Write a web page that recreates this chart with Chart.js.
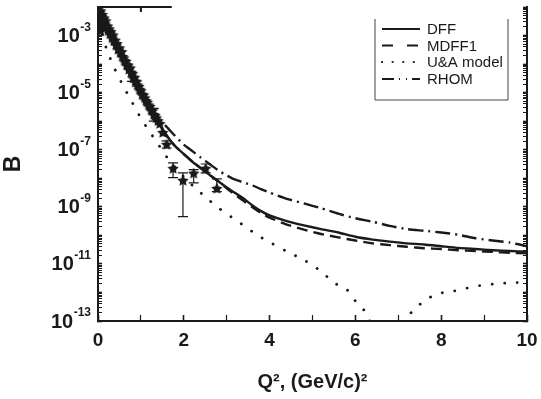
<!DOCTYPE html>
<html>
<head>
<meta charset="utf-8">
<script src="https://cdn.jsdelivr.net/npm/chart.js@4.4.0/dist/chart.umd.min.js"></script>
<style>
  html, body { margin: 0; padding: 0; background: #fff; }
</style>
</head>
<body>
<canvas id="chart" width="541" height="399"></canvas>
<script>
// Q^2 grid shared by the three form-factor curves
const qGrid = [0, 0.2, 0.4, 0.6, 0.8, 1.0, 1.2, 1.4, 1.6, 1.8, 2.0, 2.2, 2.4, 2.6, 2.8, 3.0,
  3.2, 3.4, 3.6, 3.8, 4.0, 4.4, 4.8, 5.2, 5.6, 6.0, 6.4, 6.8, 7.2, 7.6, 8.0, 8.4, 8.8, 9.2, 9.6, 10];

const dff = [8.91e-3, 2.24e-3, 5.62e-4, 1.41e-4, 3.80e-5, 1.05e-5, 3.02e-6, 8.91e-7, 3.16e-7, 1.32e-7,
  7.08e-8, 3.80e-8, 2.24e-8, 1.32e-8, 7.94e-9, 4.79e-9, 3.02e-9, 1.91e-9, 1.12e-9, 7.08e-10,
  5.01e-10, 3.16e-10, 2.24e-10, 1.66e-10, 1.26e-10, 8.91e-11, 7.08e-11, 6.03e-11, 5.25e-11, 4.79e-11,
  4.17e-11, 3.63e-11, 3.31e-11, 3.02e-11, 2.82e-11, 2.69e-11];

const mdff1 = [8.91e-3, 2.24e-3, 5.62e-4, 1.41e-4, 3.80e-5, 1.05e-5, 3.02e-6, 8.91e-7, 3.16e-7, 1.32e-7,
  7.08e-8, 3.80e-8, 2.24e-8, 1.32e-8, 7.94e-9, 4.47e-9, 2.63e-9, 1.58e-9, 9.55e-10, 6.03e-10,
  4.17e-10, 2.40e-10, 1.58e-10, 1.12e-10, 8.51e-11, 6.61e-11, 5.25e-11, 4.57e-11, 3.98e-11, 3.55e-11,
  3.31e-11, 3.02e-11, 2.82e-11, 2.63e-11, 2.45e-11, 2.34e-11];

const rhom = [8.91e-3, 2.24e-3, 5.62e-4, 1.41e-4, 3.80e-5, 1.12e-5, 3.72e-6, 1.26e-6, 6.31e-7, 3.02e-7,
  1.51e-7, 8.91e-8, 5.25e-8, 3.16e-8, 1.91e-8, 1.26e-8, 8.91e-9, 7.08e-9, 5.62e-9, 4.17e-9,
  3.16e-9, 1.91e-9, 1.32e-9, 8.91e-10, 5.75e-10, 3.98e-10, 3.02e-10, 2.14e-10, 1.66e-10, 1.45e-10,
  1.26e-10, 1.05e-10, 7.94e-11, 6.61e-11, 5.62e-11, 4.17e-11];

// U&A model has its own grid (goes through zero near Q^2 ~ 6.6)
const uaQ = [0, 0.1, 0.2, 0.4, 0.6, 0.8, 1.0, 1.2, 1.4, 1.6, 1.8, 2.0, 2.2, 2.5, 2.8, 3.1, 3.4, 3.7,
  4.0, 4.4, 4.8, 5.2, 5.5, 5.8, 6.0, 6.2, 6.4, 6.6, 7.0, 7.2, 7.4, 7.7, 8.0, 8.3, 8.6, 8.9, 9.2, 9.6, 10];
const uaB = [7.94e-3, 1.26e-3, 3.31e-4, 6.31e-5, 1.58e-5, 4.47e-6, 1.26e-6, 4.37e-7, 1.58e-7, 5.62e-8,
  2.40e-8, 1.12e-8, 5.62e-9, 2.24e-9, 9.33e-10, 4.47e-10, 2.19e-10, 1.05e-10, 5.75e-11, 2.75e-11,
  1.38e-11, 5.50e-12, 2.19e-12, 1.26e-12, 5.01e-13, 2.40e-13, 6.31e-14, 1e-14, 1e-14, 1.26e-13,
  2.82e-13, 6.31e-13, 9.55e-13, 1.12e-12, 1.41e-12, 1.74e-12, 1.95e-12, 2.19e-12, 2.24e-12];

// experimental points
const expQ = [0.02, 0.03, 0.04, 0.05, 0.06, 0.08, 0.08, 0.10, 0.12, 0.14, 0.16, 0.18, 0.20, 0.22, 0.24,
  0.26, 0.28, 0.30, 0.33, 0.35, 0.37, 0.40, 0.42, 0.44, 0.47, 0.50, 0.52, 0.55, 0.57, 0.60, 0.62,
  0.65, 0.67, 0.70, 0.72, 0.75, 0.77, 0.80, 0.82, 0.85, 0.87, 0.90, 0.92, 0.95, 0.97, 1.00, 1.03,
  1.06, 1.09, 1.12, 1.15, 1.18, 1.21, 1.24, 1.27, 1.30, 1.33, 1.36, 1.40, 1.44, 1.51, 1.60, 1.75,
  1.98, 2.23, 2.51, 2.77];
const expB = [8.91e-3, 2.51e-3, 6.31e-3, 1.41e-3, 7.08e-3, 4.47e-3, 1.78e-3, 5.25e-3, 3.55e-3, 3.98e-3,
  2.51e-3, 3.16e-3, 2.0e-3, 2.09e-3, 1.41e-3, 1.66e-3, 1.12e-3, 1.32e-3, 7.94e-4, 1.0e-3, 6.31e-4,
  6.61e-4, 4.47e-4, 5.01e-4, 3.16e-4, 3.55e-4, 2.40e-4, 2.63e-4, 1.78e-4, 1.58e-4, 1.26e-4, 1.20e-4,
  8.91e-5, 8.91e-5, 6.31e-5, 7.08e-5, 5.01e-5, 4.47e-5, 3.16e-5, 3.31e-5, 2.24e-5, 2.40e-5, 1.78e-5,
  1.58e-5, 1.26e-5, 1.12e-5, 8.32e-6, 7.94e-6, 6.31e-6, 5.01e-6, 4.47e-6, 3.55e-6, 3.16e-6, 2.40e-6,
  2.24e-6, 1.66e-6, 1.51e-6, 1.26e-6, 1.0e-6, 7.94e-7, 3.89e-7, 1.48e-7, 2.14e-8, 8.13e-9, 1.45e-8,
  2.14e-8, 4.27e-9];

// error bars: Q^2, upper, lower
const errQ  = [0.79, 1.30, 1.60, 1.75, 1.98, 2.23, 2.51, 2.77];
const errHi = [5.13e-5, 2.82e-6, 2.04e-7, 3.47e-8, 1.55e-8, 2.0e-8, 3.16e-8, 9.55e-9];
const errLo = [2.5e-5, 1.0e-6, 1.15e-7, 1.05e-8, 4.57e-10, 6.92e-9, 1.55e-8, 3.39e-9];

const yLabelExps = [-3, -5, -7, -9, -11, -13];

const INK = '#1a1a1a';
const FONT = 'Arial, "Liberation Sans", Helvetica, sans-serif';

const pts = (xs, ys) => xs.map((x, i) => ({ x, y: ys[i] }));

function makeStar(r) {
  const s = Math.ceil(r * 2 + 2);
  const c = document.createElement('canvas');
  c.width = s; c.height = s;
  const g = c.getContext('2d');
  g.fillStyle = INK;
  g.beginPath();
  for (let i = 0; i < 10; i++) {
    const a = -Math.PI / 2 + i * Math.PI / 5;
    const rr = i % 2 ? r * 0.5 : r;
    g.lineTo(s / 2 + rr * Math.cos(a), s / 2 + rr * Math.sin(a));
  }
  g.closePath();
  g.fill();
  return c;
}

// all decade and sub-decade tick values for the log axes
const logTicks = [];
for (let e = -13; e <= -3; e++) {
  for (let m = 1; m <= 9; m++) logTicks.push(m * Math.pow(10, e));
}
logTicks.push(1e-2);

const isDecade = v => {
  const l = Math.log10(v);
  return Math.abs(l - Math.round(l)) < 1e-6;
};

const decor = {
  id: 'decor',
  afterDatasetsDraw(chart) {
    const { ctx, scales: { x, y } } = chart;
    ctx.save();
    ctx.strokeStyle = INK;
    ctx.lineWidth = 1.2;
    errQ.forEach((q, i) => {
      const px = x.getPixelForValue(q);
      const y1 = y.getPixelForValue(errHi[i]);
      const y2 = y.getPixelForValue(errLo[i]);
      ctx.beginPath();
      ctx.moveTo(px, y1); ctx.lineTo(px, y2);
      ctx.moveTo(px - 5, y1); ctx.lineTo(px + 5, y1);
      ctx.moveTo(px - 5, y2); ctx.lineTo(px + 5, y2);
      ctx.stroke();
    });
    ctx.restore();
  },
  afterDraw(chart) {
    const { ctx, chartArea, scales: { x, y } } = chart;
    ctx.save();
    ctx.fillStyle = INK;
    ctx.textBaseline = 'middle';
    // y tick labels 10^n
    yLabelExps.forEach(e => {
      const py = y.getPixelForValue(Math.pow(10, e));
      const right = 91;
      ctx.font = 'bold 12px ' + FONT;
      ctx.textAlign = 'right';
      const expTxt = '-' + Math.abs(e);
      const w = ctx.measureText(expTxt).width;
      ctx.fillText(expTxt, right, py - 8);
      ctx.font = 'bold 20px ' + FONT;
      ctx.fillText('10', right - w - 0.5, py + 1);
    });
    // top frame piece
    ctx.strokeStyle = INK;
    ctx.lineWidth = 2;
    ctx.beginPath();
    ctx.moveTo(chartArea.left, chartArea.top);
    ctx.lineTo(x.getPixelForValue(1.72), chartArea.top);
    ctx.moveTo(x.getPixelForValue(1), chartArea.top);
    ctx.lineTo(x.getPixelForValue(1), chartArea.top + 5);
    ctx.stroke();
    // legend
    const box = { l: 375, r: 508, t: 19, b: 100 };
    ctx.lineWidth = 1;
    ctx.strokeStyle = '#444';
    ctx.beginPath();
    ctx.moveTo(box.l, box.t); ctx.lineTo(box.l, box.b);
    ctx.lineTo(box.r, box.b); ctx.lineTo(box.r, box.t);
    ctx.stroke();
    const rows = [29, 45.5, 62, 79];
    const items = chart.data.datasets.filter(d => d.legendDash);
    items.forEach((d, i) => {
      ctx.strokeStyle = INK;
      ctx.lineWidth = 2.2;
      ctx.lineCap = d.borderCapStyle || 'butt';
      ctx.setLineDash(d.legendDash);
      ctx.beginPath();
      ctx.moveTo(382, rows[i]); ctx.lineTo(420, rows[i]);
      ctx.stroke();
      ctx.setLineDash([]);
      ctx.font = '15px ' + FONT;
      ctx.textAlign = 'left';
      ctx.fillText(d.label, 427, rows[i] + 1);
    });
    ctx.restore();
  }
};

const logAxis = (position, width) => ({
  type: 'logarithmic',
  position,
  min: 1e-13,
  max: 1e-2,
  afterBuildTicks: s => { s.ticks = logTicks.map(v => ({ value: v })); },
  afterFit: s => { s.width = width; s.paddingTop = 0; s.paddingBottom = 0; },
  ticks: { callback: () => '', autoSkip: false, padding: 0, font: { size: 1 } },
  grid: {
    drawOnChartArea: false,
    color: INK,
    tickLength: -4,
    tickWidth: c => (c.tick && isDecade(c.tick.value) ? 1.6 : 1)
  },
  border: { color: INK, width: 2 }
});

new Chart(document.getElementById('chart'), {
  type: 'scatter',
  data: {
    datasets: [
      {
        label: 'DFF', data: pts(qGrid, dff), showLine: true, borderColor: INK, borderWidth: 2.4,
        pointRadius: 0, tension: 0.2, legendDash: []
      },
      {
        label: 'MDFF1', data: pts(qGrid, mdff1), showLine: true, borderColor: INK, borderWidth: 2.4,
        borderDash: [11, 6], pointRadius: 0, tension: 0.2, legendDash: [11, 14]
      },
      {
        label: 'U&A model', data: pts(uaQ, uaB), showLine: true, borderColor: INK, borderWidth: 2.8,
        borderDash: [0.1, 12.5], borderCapStyle: 'round', pointRadius: 0, tension: 0.2,
        legendDash: [0.1, 10.5]
      },
      {
        label: 'RHOM', data: pts(qGrid, rhom), showLine: true, borderColor: INK, borderWidth: 2.4,
        borderDash: [15, 5, 2, 5], pointRadius: 0, tension: 0.2,
        legendDash: [12, 5, 1, 6, 1, 5, 12]
      },
      {
        label: 'data', data: pts(expQ, expB), showLine: false,
        pointStyle: makeStar(6), pointRadius: 6, pointHoverRadius: 6
      }
    ]
  },
  options: {
    responsive: false,
    animation: false,
    devicePixelRatio: 1,
    layout: { padding: { left: 0, right: 0, top: 4, bottom: 0 } },
    plugins: { legend: { display: false }, tooltip: { enabled: false } },
    scales: {
      x: {
        type: 'linear',
        min: 0,
        max: 10,
        afterFit: s => { s.height = 78; s.paddingLeft = 0; s.paddingRight = 0; },
        ticks: {
          stepSize: 1,
          autoSkip: false,
          maxRotation: 0,
          color: INK,
          padding: 14,
          font: { family: FONT, size: 19, weight: 'bold' },
          callback: v => (v % 2 === 0 ? String(v) : '')
        },
        grid: {
          drawOnChartArea: false,
          color: INK,
          tickLength: -6,
          tickWidth: c => (c.tick && c.tick.value % 2 === 0 ? 1.6 : 1.2)
        },
        border: { color: INK, width: 2 },
        title: {
          display: true,
          text: 'Q², (GeV/c)²',
          color: INK,
          font: { family: FONT, size: 20, weight: 'bold' },
          padding: { top: 0, bottom: 5 }
        }
      },
      y: Object.assign(logAxis('left', 98), {
        title: {
          display: true,
          text: 'B',
          color: INK,
          font: { family: FONT, size: 23, weight: 'bold' },
          padding: { top: 0, bottom: 0 }
        }
      }),
      y2: logAxis('right', 14)
    }
  },
  plugins: [decor]
});
</script>
</body>
</html>
